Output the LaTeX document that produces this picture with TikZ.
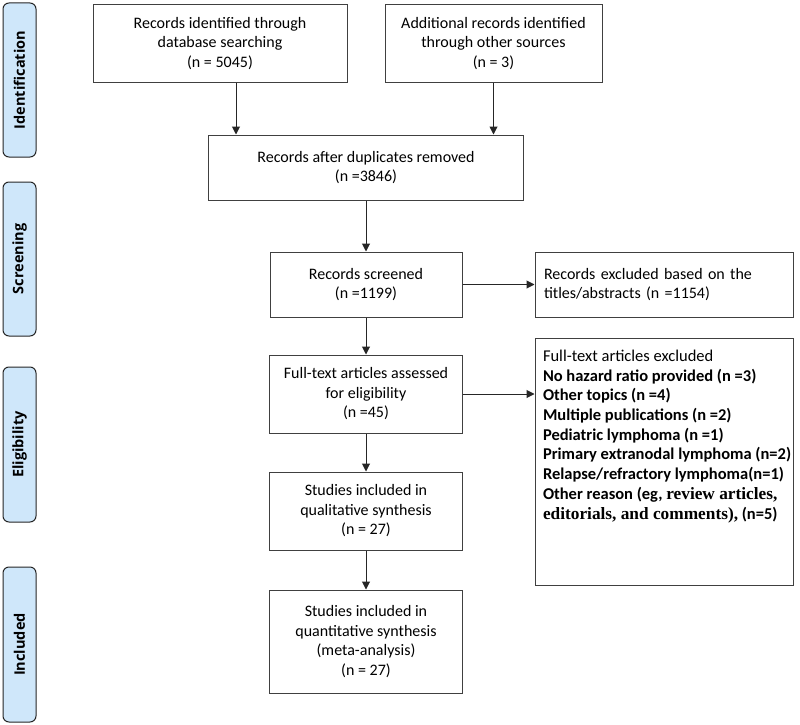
\documentclass[tikz,border=0pt]{standalone}
\usepackage{fontspec}
\setmainfont{Carlito}
\newfontfamily\phasefont{Open Sans}
\newfontfamily\timesbold{Liberation Serif}
\usetikzlibrary{arrows.meta,positioning}
\definecolor{phaseblue}{RGB}{207,231,250}
\definecolor{boxline}{RGB}{64,64,64}
\tikzset{main box/.style={rectangle,draw=boxline,line width=1pt,align=center,inner sep=0pt,font=\fontsize{16}{19.5}\selectfont},
         phase/.style={rectangle,rounded corners=6pt,draw=black!85,fill=phaseblue,line width=1pt,rotate=90,minimum height=33pt,inner sep=0pt,font=\phasefont\bfseries\fontsize{14.5}{16}\selectfont},
         flow arrow/.style={-{Triangle[length=8pt,width=8pt]},draw=black!85,line width=1pt}
}

\begin{document}
\begin{tikzpicture}[x=1pt,y=-1pt]
\useasboundingbox (0,0) rectangle (800,725);
% phases
\node [phase, minimum width=154pt] (ph1) at (19.5,80) {Identification};
\node [phase, minimum width=154pt] (ph2) at (19.5,259) {Screening};
\node [phase, minimum width=155pt] (ph3) at (19.5,444.5) {Eligibility};
\node [phase, minimum width=155pt] (ph4) at (19.5,644.5) {Included};
% boxes
\node [main box, minimum width=254pt, minimum height=77pt] (id) at (220,43.5)
    {Records identified through\\database searching\\(n = 5045)};
\node [main box, minimum width=217pt, minimum height=77pt] (add) at (493.5,43.5)
    {Additional records identified\\through other sources\\(n = 3)};
\node [main box, minimum width=315pt, minimum height=65pt] (dup) at (366,167.5)
    {Records after duplicates removed\\(n =3846)};
\node [main box, minimum width=192pt, minimum height=65pt] (scr) at (366,284.5)
    {Records screened\\(n =1199)};
\node [main box, minimum height=65pt, text width=240pt, inner xsep=9pt, align=left] (exc) at (664,284.5)
    {Records excluded based on the\\titles/abstracts (n =1154)};
\node [main box, minimum width=193pt, minimum height=78pt] (full) at (366,394)
    {Full-text articles assessed\\for eligibility\\(n =45)};
\node [main box, minimum width=258pt, minimum height=247pt] (fex) at (664,461.5)
    {\parbox[c][247pt][t]{256pt}{\fontsize{16.5}{19.7}\selectfont\vspace*{12pt}\raggedright\leftskip=7pt
    Full-text articles excluded\\
    \bfseries No hazard ratio provided (n =3)\\
    Other topics (n =4)\\
    Multiple publications (n =2)\\
    Pediatric lymphoma (n =1)\\
    Primary extranodal lymphoma (n=2)\\
    Relapse/refractory lymphoma(n=1)\\
    Other reason (eg, {\timesbold\fontsize{17.3}{19.7}\selectfont review articles,}\\
    {\timesbold\fontsize{17.3}{19.7}\selectfont editorials, and comments),} (n=5)}};
\node [main box, minimum width=193pt, minimum height=78pt] (qual) at (366,511)
    {Studies included in\\qualitative synthesis\\(n = 27)};
\node [main box, minimum width=193pt, minimum height=103pt] (quant) at (366,641.5)
    {Studies included in\\quantitative synthesis\\(meta-analysis)\\(n = 27)};
% arrows
\coordinate (idout) at ([xshift=16pt]id.south);
\draw [flow arrow] (idout) -- (idout |- dup.north);
\draw [flow arrow] (add.south) -- (add.south |- dup.north);
\draw [flow arrow] (dup) -- (scr);
\draw [flow arrow] (scr) -- (full);
\draw [flow arrow] (full) -- (qual);
\draw [flow arrow] (qual) -- (quant);
\draw [flow arrow] (scr) -- (scr -| exc.west);
\draw [flow arrow] (full) -- (full -| fex.west);
\end{tikzpicture}
\end{document}
